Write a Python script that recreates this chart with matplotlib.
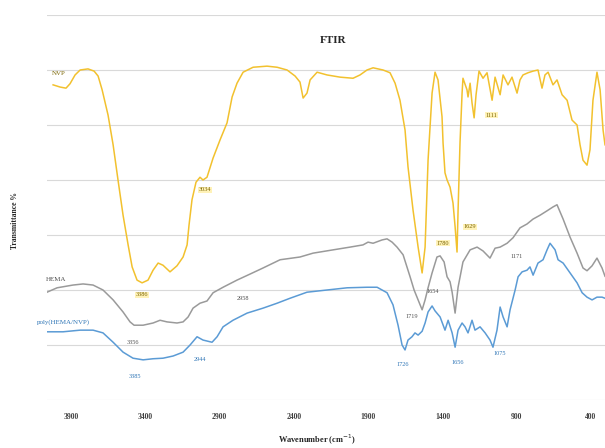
import matplotlib
matplotlib.use('Agg')
import matplotlib.pyplot as plt

# wavenumber (cm-1) and transmittance (arbitrary %)
nvp_wn = [4021, 3974, 3934, 3907, 3873, 3839, 3786, 3745, 3718, 3691, 3651, 3617, 3584, 3550,
          3516, 3489, 3456, 3422, 3382, 3348, 3314, 3281, 3234, 3187, 3146, 3119, 3106, 3086,
          3059, 3032, 3012, 2985, 2944, 2897, 2850, 2816, 2783, 2742, 2675, 2581, 2513, 2446,
          2392, 2359, 2338, 2312, 2291, 2244, 2177, 2089, 2002, 1955, 1908, 1867, 1800, 1753,
          1719, 1686, 1652, 1632, 1598, 1564, 1537, 1517, 1497, 1470, 1450, 1430, 1403, 1396,
          1383, 1369, 1349, 1329, 1315, 1302, 1295, 1282, 1268, 1262, 1235, 1228, 1214, 1201,
          1187, 1174, 1154, 1127, 1100, 1066, 1046, 1012, 992, 959, 932, 898, 878, 858, 824,
          790, 757, 730, 710, 689, 656, 629, 595, 561, 528, 494, 474, 454, 427, 407, 387, 360,
          339, 319, 306]
nvp_t = [57.3, 56.9, 56.7, 57.5, 59.1, 60.0, 60.2, 59.8, 58.9, 56.4, 51.8, 46.4, 40.0, 33.6,
         28.2, 24.2, 21.8, 21.3, 21.8, 23.6, 24.9, 24.5, 23.3, 24.4, 26.0, 28.2, 31.8, 36.4,
         39.6, 40.5, 40.0, 40.5, 44.0, 47.3, 50.4, 55.1, 57.6, 59.6, 60.5, 60.7, 60.5, 60.0,
         58.9, 57.8, 54.9, 55.8, 58.2, 59.6, 59.1, 58.7, 58.5, 59.1, 60.0, 60.4, 60.0, 59.5,
         57.6, 54.5, 49.1, 42.4, 34.5, 27.8, 23.1, 27.8, 43.6, 55.8, 59.6, 58.2, 51.5, 46.7,
         41.3, 40.0, 38.7, 35.8, 31.5, 26.9, 34.5, 46.7, 55.8, 58.5, 56.4, 55.1, 57.6, 54.0,
         51.3, 55.5, 59.8, 58.5, 59.5, 54.5, 58.7, 55.5, 59.1, 57.3, 58.7, 55.8, 58.2, 59.1, 59.5,
         59.8, 60.0, 56.7, 59.1, 59.6, 57.3, 58.2, 55.5, 54.5, 50.9, 50.0, 46.4, 43.6, 42.7, 45.5,
         54.5, 59.6, 56.4, 49.1, 46.4]

hema_wn = [4062, 3994, 3887, 3819, 3752, 3685, 3617, 3550, 3503, 3476, 3415, 3348, 3301, 3254,
           3187, 3146, 3112, 3079, 3032, 2985, 2944, 2877, 2783, 2695, 2608, 2493, 2359, 2271,
           2136, 2022, 1935, 1901, 1867, 1807, 1773, 1739, 1706, 1665, 1618, 1591, 1564, 1537,
           1517, 1497, 1470, 1437, 1416, 1389, 1369, 1349, 1335, 1315, 1295, 1262, 1214, 1167,
           1127, 1080, 1046, 1012, 965, 925, 878, 831, 790, 743, 696, 656, 629, 588, 541, 494,
           454, 427, 393, 360, 326, 306]
hema_t = [19.6, 20.4, 20.9, 21.1, 20.9, 20.0, 18.2, 16.0, 14.2, 13.6, 13.6, 14.0, 14.5, 14.2,
          14.0, 14.2, 15.1, 16.7, 17.6, 18.0, 19.5, 20.5, 21.8, 22.9, 24.0, 25.5, 26.0, 26.7,
          27.3, 27.8, 28.2, 28.7, 28.5, 29.1, 29.3, 28.7, 27.8, 26.4, 22.4, 20.0, 18.2, 16.4,
          18.2, 20.4, 23.1, 26.0, 26.2, 25.1, 22.4, 21.5, 19.6, 15.8, 20.5, 25.1, 27.3, 27.8,
          27.1, 25.8, 27.6, 27.8, 28.5, 29.5, 31.3, 32.0, 32.9, 33.6, 34.4, 35.1, 35.5, 32.9,
          29.6, 26.7, 24.0, 23.5, 24.4, 25.8, 24.0, 22.5]

poly_wn = [4062, 3954, 3839, 3752, 3685, 3617, 3550, 3483, 3415, 3348, 3281, 3213, 3146, 3099,
           3052, 3012, 2951, 2917, 2877, 2810, 2715, 2608, 2513, 2426, 2312, 2177, 2042, 1908,
           1840, 1773, 1733, 1699, 1672, 1652, 1632, 1605, 1585, 1564, 1537, 1517, 1497, 1470,
           1450, 1416, 1383, 1362, 1335, 1315, 1295, 1268, 1248, 1228, 1201, 1181, 1147, 1113,
           1080, 1060, 1033, 1012, 992, 965, 945, 911, 891, 864, 831, 811, 790, 757, 723, 696,
           676, 642, 622, 588, 541, 494, 460, 427, 393, 360, 326, 306]
poly_t = [12.4, 12.4, 12.7, 12.7, 12.2, 10.5, 8.7, 7.6, 7.3, 7.5, 7.6, 8.0, 8.7, 10.0,
          11.5, 10.9, 10.5, 11.5, 13.3, 14.5, 15.8, 16.7, 17.6, 18.5, 19.6, 20.0, 20.4, 20.5,
          20.5, 19.5, 17.3, 13.6, 10.0, 9.1, 10.9, 11.5, 12.2, 11.8, 12.5, 14.0, 16.0, 17.1,
          16.2, 15.1, 12.7, 14.5, 12.2, 9.6, 12.7, 14.0, 13.3, 12.2, 14.5, 12.7, 13.3, 12.2,
          10.9, 9.6, 12.7, 16.9, 15.1, 13.3, 16.4, 20.0, 22.4, 23.3, 23.6, 24.2, 22.7, 24.9,
          25.5, 27.3, 28.5, 27.3, 25.5, 24.9, 23.1, 21.3, 19.5, 18.7, 18.2, 18.7, 18.7, 18.5]

tick_wn = [3900, 3400, 2900, 2400, 1900, 1400, 900, 400]

# peak labels: text, wavenumber, transmittance
nvp_peaks = [('3386', 3422, 19.1), ('3034', 2998, 38.2), ('1780', 1396, 28.5),
             ('1629', 1214, 31.5), ('1111', 1073, 51.8)]
hema_peaks = [('3356', 3483, 10.4), ('2958', 2742, 18.5), ('1719', 1605, 15.1),
              ('1654', 1463, 19.8), ('1171', 898, 26.0)]
poly_peaks = [('3385', 3469, 4.2), ('2944', 3032, 7.3), ('1726', 1665, 6.4),
              ('1656', 1295, 6.9), ('1075', 1012, 8.5)]

plt.rcParams['font.family'] = 'Liberation Serif'

yellow = '#F2C12E'
gray = '#9A9A9A'
blue = '#5B9BD5'

fig = plt.figure(figsize=(6.05, 4.48), dpi=100)
ax = fig.add_axes([47 / 605, 48 / 448, 558 / 605, 385 / 448])

ax.plot(nvp_wn, nvp_t, color=yellow, lw=1.1)
ax.plot(hema_wn, hema_t, color=gray, lw=1.1)
ax.plot(poly_wn, poly_t, color=blue, lw=1.1)

ax.set_xlim(4062, 306)
ax.set_ylim(0, 70)
ax.set_yticks(range(0, 71, 10))
ax.set_yticklabels([])
ax.set_xticks(tick_wn)
ax.set_xticklabels([str(t) for t in tick_wn], fontsize=5.5, fontweight='bold', color='#404040')
ax.tick_params(length=0, pad=9)
ax.grid(axis='y', color='#d9d9d9', lw=0.8)
ax.set_axisbelow(True)
for s in ax.spines.values():
    s.set_visible(False)

for txt, x, y in nvp_peaks:
    ax.text(x, y, txt, fontsize=4.5, color='#7a6400', ha='center', va='center',
            bbox=dict(boxstyle='square,pad=0.1', fc='#fff2b8', ec='none'))
for txt, x, y in hema_peaks:
    ax.text(x, y, txt, fontsize=4.5, color='#505050', ha='center', va='center')
for txt, x, y in poly_peaks:
    ax.text(x, y, txt, fontsize=4.5, color='#2E75B6', ha='center', va='center')

ax.text(4028, 59.3, 'NVP', fontsize=5, color='#7a6400', ha='left', va='center')
ax.text(4068, 22.0, 'HEMA', fontsize=5, color='#505050', ha='left', va='center', clip_on=False)
ax.text(4129, 14.2, 'poly(HEMA/NVP)', fontsize=5, color='#2E75B6', ha='left', va='center',
        clip_on=False)

ax.text(0.513, 0.935, 'FTIR', transform=ax.transAxes, fontsize=8, fontweight='bold',
        ha='center', va='center', color='#262626')
fig.text(15 / 605, 1 - 220 / 448, 'Transmittance %', rotation=90, fontsize=5.5,
         fontweight='bold', ha='center', va='center', color='#262626')
fig.text(317 / 605, 1 - 440 / 448, 'Wavenumber (cm$^{-1}$)', fontsize=6, fontweight='bold',
         ha='center', va='center', color='#262626')

fig.savefig('out.png', dpi=100)
